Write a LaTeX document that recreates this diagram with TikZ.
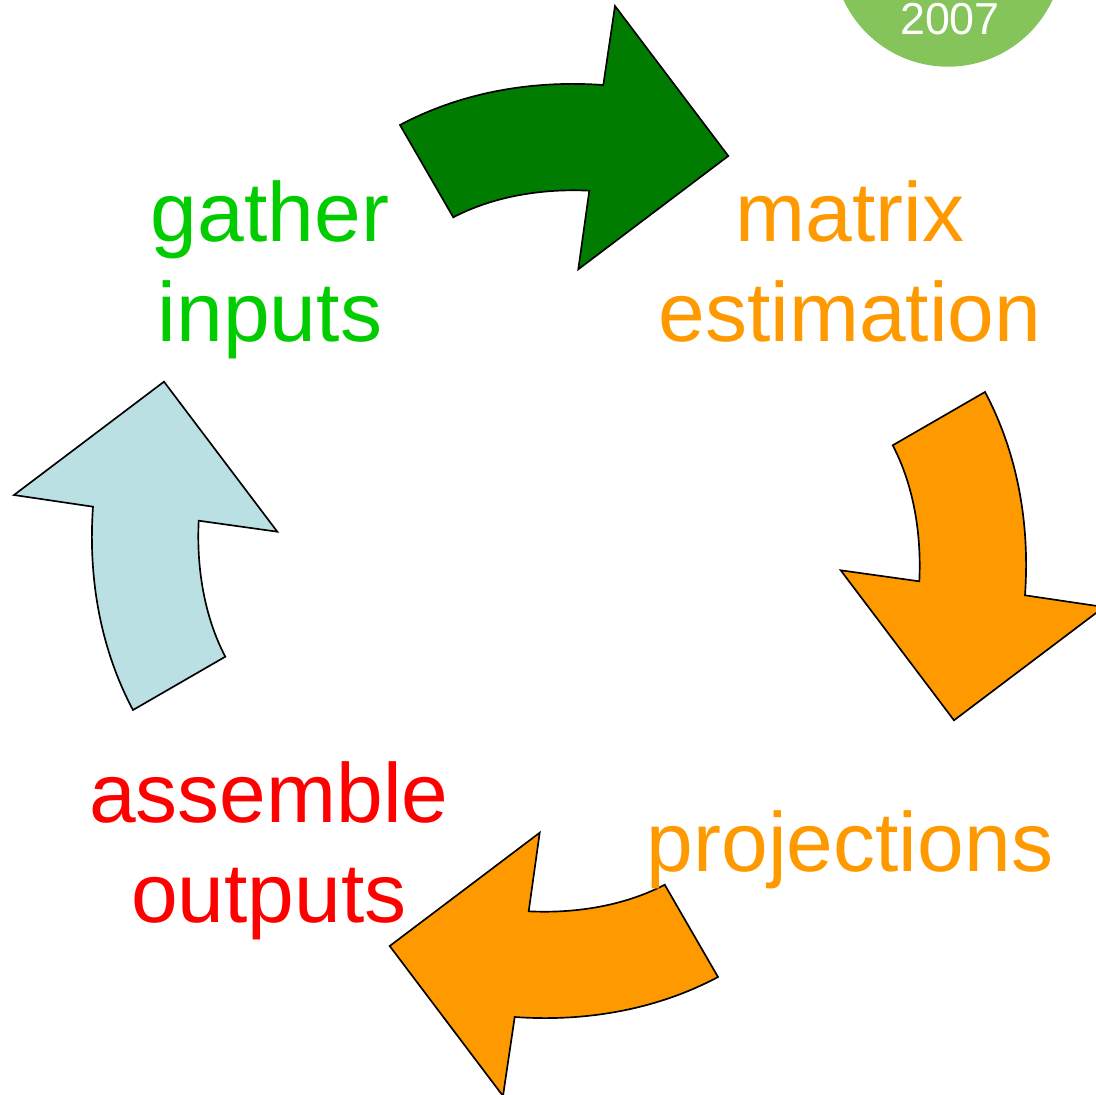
\documentclass[tikz,border=0pt]{standalone}
\usepackage{fontspec}
\setmainfont{Liberation Sans}
\definecolor{arrowgreen}{RGB}{0,125,0}
\definecolor{arroworange}{RGB}{255,153,0}
\definecolor{arrowblue}{RGB}{187,224,227}
\definecolor{txtgreen}{RGB}{0,204,0}
\definecolor{txtorange}{RGB}{255,153,0}
\definecolor{txtred}{RGB}{255,0,0}
\definecolor{badge}{RGB}{132,196,90}
\begin{document}
\begin{tikzpicture}[x=0.02cm,y=0.02cm,
  cyclearrow/.pic={
    \path[pic actions] (-159,426) .. controls (-97,459) and (-26,471) .. (44.3,466)
      -- (56,545) -- (169.3,395) -- (19.3,281.7) -- (30.3,360.3)
      .. controls (-16,362.6) and (-65,355) .. (-105.7,333.7) -- cycle;
  },
  arrowstyle/.style={draw=black,line width=0.95pt,line join=miter},
  cyclelabel/.style={font=\fontsize{47.8}{56.9}\selectfont, align=center, anchor=base, inner sep=0pt}
]
\useasboundingbox (0,0) rectangle (1096,-1095);
\fill[white] (0,0) rectangle (1096,-1095);
% badge
\fill[badge] (948,48.5) circle (115.2);
\node[font=\fontsize{25.5}{30}\selectfont, text=white, anchor=base, inner sep=0pt] (year) at (950,-35) {2007};
% arrows
\coordinate (ctr) at (559,-551);
\pic[arrowstyle, fill=arrowgreen] at (ctr) {cyclearrow};
\pic[arrowstyle, fill=arroworange, rotate=-90] at (ctr) {cyclearrow};
\pic[arrowstyle, fill=arroworange, rotate=180] at (ctr) {cyclearrow};
\pic[arrowstyle, fill=arrowblue, rotate=90] at (ctr) {cyclearrow};
% labels (base = baseline of the last line)
\node[cyclelabel, text=txtgreen] (gather) at (270,-341.7) {gather\\inputs};
\node[cyclelabel, text=txtorange] (matrix) at (850,-341.7) {matrix\\estimation};
\node[cyclelabel, text=txtorange] (proj) at (850,-871.7) {projections};
\node[cyclelabel, text=txtred] (assemble) at (269,-922) {assemble\\outputs};
\end{tikzpicture}
\end{document}
